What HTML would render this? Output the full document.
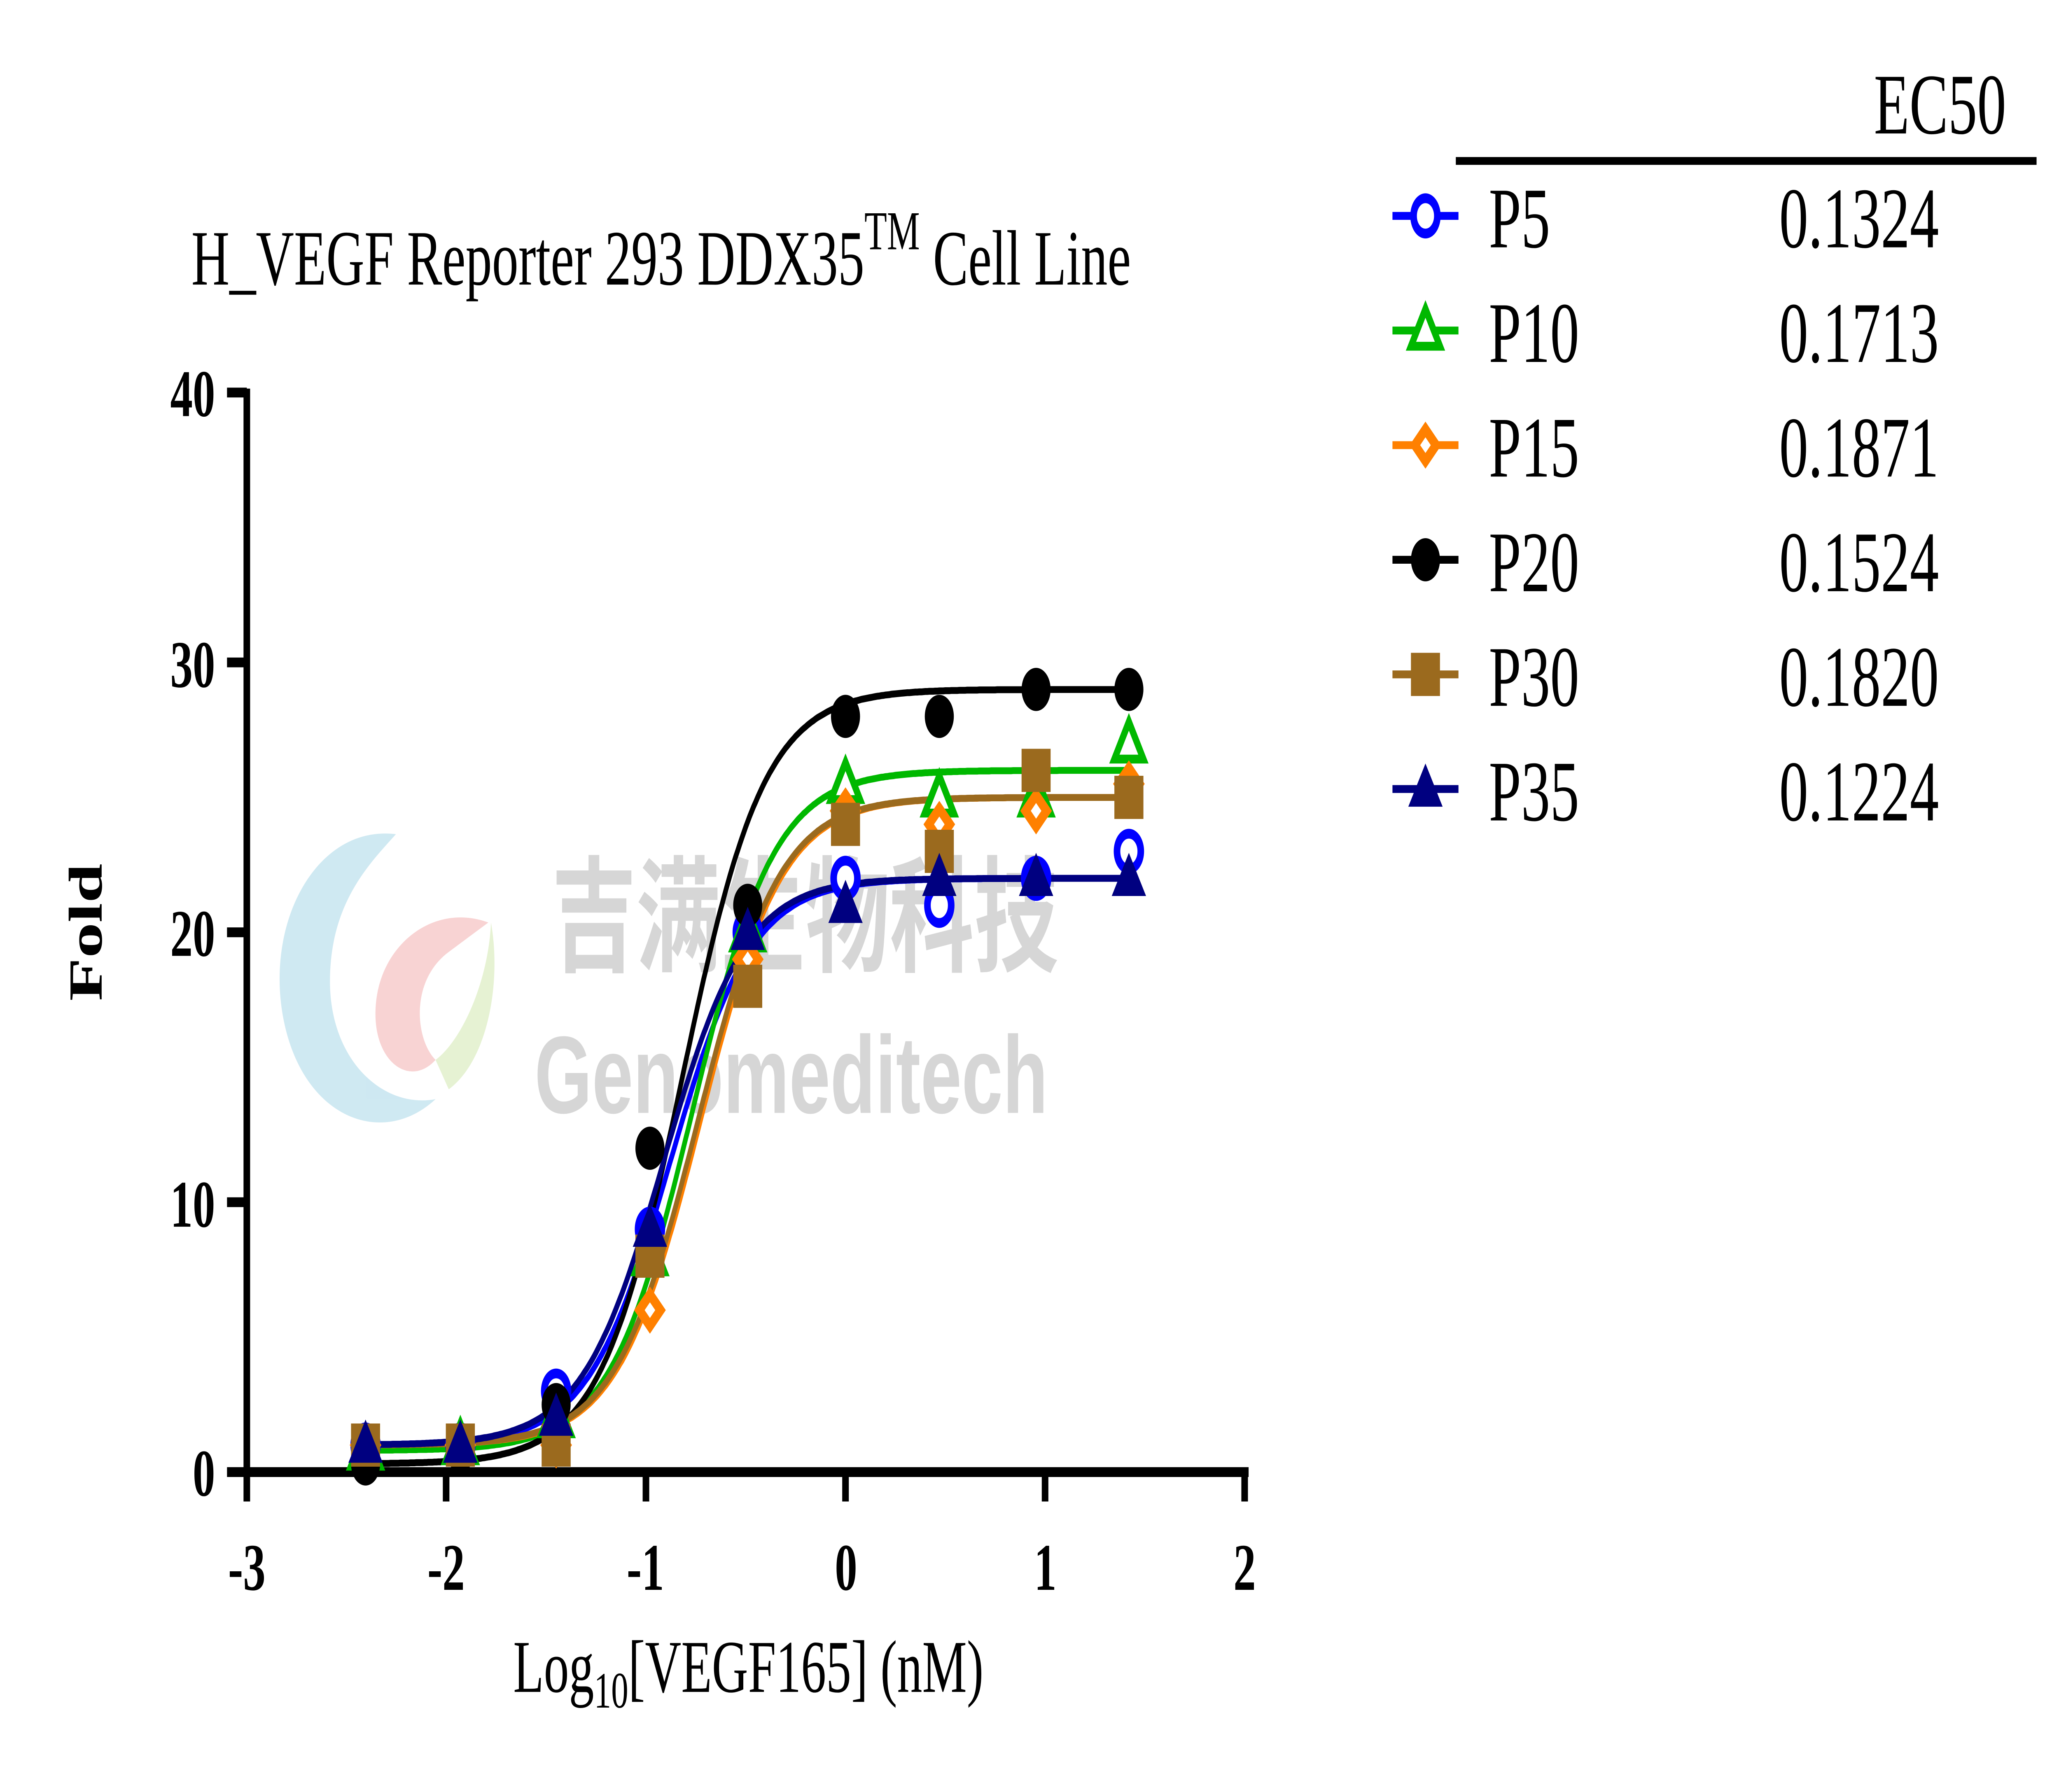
<!DOCTYPE html>
<html><head><meta charset="utf-8"><style>
html,body{margin:0;padding:0;background:#fff;width:100%;height:100%;overflow:hidden;}
svg{display:block;width:100vw;height:100vh;}
text{font-family:"Liberation Serif","Noto Serif CJK SC",serif;}
</style></head><body>
<svg id="s" viewBox="0 0 1560 913" preserveAspectRatio="none" xmlns="http://www.w3.org/2000/svg">
<rect width="1560" height="913" fill="#fff"/>
<g opacity="0.5">
<path d="M300 425 C240 420 200 470 215 520 C230 570 290 585 330 560 C290 565 250 540 250 500 C250 460 280 440 300 425Z" fill="#9fd3e6"/>
<path d="M370 470 C330 460 290 480 285 510 C280 540 310 555 330 540 C315 530 310 500 340 485Z" fill="#f3a9a9"/>
<path d="M330 540 C350 530 370 500 372 470 C380 500 370 540 340 555Z" fill="#cfe6a8"/>
</g>
<text x="418" y="490" font-size="64" font-weight="bold" fill="#d6d6d6" style="font-family:'Noto Sans CJK SC',sans-serif">吉满生物科技</text>
<text x="405" y="567" font-size="56" font-weight="bold" fill="#d6d6d6" style="font-family:'Liberation Sans',sans-serif">Genomeditech</text>
<text x="145" y="145" font-size="40">H_VEGF Reporter 293 DDX35<tspan font-size="28" dy="-18">TM</tspan><tspan dy="18"> Cell Line</tspan></text>
<g stroke="#000" stroke-width="5" fill="none">
<line x1="187" y1="198" x2="187" y2="752"/>
<line x1="172" y1="750" x2="946" y2="750"/>
<line x1="172" y1="200" x2="187" y2="200"/>
<line x1="172" y1="337.5" x2="187" y2="337.5"/>
<line x1="172" y1="475" x2="187" y2="475"/>
<line x1="172" y1="612.5" x2="187" y2="612.5"/>
<line x1="187" y1="750" x2="187" y2="765"/>
<line x1="338" y1="750" x2="338" y2="765"/>
<line x1="489.4" y1="750" x2="489.4" y2="765"/>
<line x1="640.6" y1="750" x2="640.6" y2="765"/>
<line x1="791.8" y1="750" x2="791.8" y2="765"/>
<line x1="943" y1="750" x2="943" y2="765"/>
</g>
<g font-size="34" font-weight="bold" text-anchor="end">
<text x="163" y="212">40</text><text x="163" y="350">30</text><text x="163" y="487">20</text><text x="163" y="625">10</text><text x="163" y="762">0</text>
</g>
<g font-size="34" font-weight="bold" text-anchor="middle">
<text x="187" y="810">-3</text><text x="338" y="810">-2</text><text x="489" y="810">-1</text><text x="641" y="810">0</text><text x="792" y="810">1</text><text x="943" y="810">2</text>
</g>
<text transform="translate(77,475) rotate(-90)" font-size="36" font-weight="bold" text-anchor="middle">Fold</text>
<text x="567" y="862" font-size="38" text-anchor="middle">Log<tspan font-size="26" dy="8">10</tspan><tspan dy="-8">[VEGF165] (nM)</tspan></text>
<text x="1520" y="68" font-size="44" text-anchor="end">EC50</text>
<line x1="1103" y1="82" x2="1543" y2="82" stroke="#000" stroke-width="4"/>
<g id="curves"></g>
<g id="leg"></g>
</svg>
<script>
var NS="http://www.w3.org/2000/svg";
function X(v){return 187+(v+3)*151.2;}
function Y(v){return 750-v*13.75;}
var xs=[-2.405,-1.93,-1.45,-0.98,-0.49,0,0.47,0.955,1.42];
var S=[
{n:"P5",c:"#0000ff",m:"oc",ec:"0.1324",b:1,t:22,d:[1,1,3,9,20,22,21,22,23]},
{n:"P10",c:"#00b800",m:"ot",ec:"0.1713",b:0.8,t:26,d:[0.8,1,2,8,20,25.5,25,25,27]},
{n:"P15",c:"#ff8000",m:"dd",ec:"0.1871",b:1,t:25,d:[1,1,1,6,19,24.5,24,24.5,25.5]},
{n:"P20",c:"#000000",m:"fc",ec:"0.1524",b:0.3,t:29,d:[0.3,0.8,2.5,12,21,28,28,29,29]},
{n:"P30",c:"#9b6a1e",m:"fs",ec:"0.1820",b:1,t:25,d:[1,1,1,8,18,24,23,26,25]},
{n:"P35",c:"#000080",m:"ft",ec:"0.1224",b:1,t:22,d:[1,1,2,9,20,21,22,22,22]}
];
var g=document.getElementById("curves"),L=document.getElementById("leg");
function el(n,a,p){var e=document.createElementNS(NS,n);for(var k in a)e.setAttribute(k,a[k]);p.appendChild(e);return e;}
function mk(m,c,x,y,p){
 if(m=="oc")el("circle",{cx:x,cy:y,r:9,fill:"#fff",stroke:c,"stroke-width":5},p);
 if(m=="fc")el("circle",{cx:x,cy:y,r:11,fill:c},p);
 if(m=="fs")el("rect",{x:x-11,y:y-11,width:22,height:22,fill:c},p);
 if(m=="ot")el("polygon",{points:(x)+","+(y-11)+" "+(x+11)+","+(y+8)+" "+(x-11)+","+(y+8),fill:"#fff",stroke:c,"stroke-width":4.5},p);
 if(m=="ft")el("polygon",{points:(x)+","+(y-13)+" "+(x+13)+","+(y+9)+" "+(x-13)+","+(y+9),fill:c},p);
 if(m=="dd"){el("polygon",{points:x+","+(y-12)+" "+(x+12)+","+y+" "+x+","+(y+12)+" "+(x-12)+","+y,fill:c},p);
  el("polygon",{points:x+","+(y-4)+" "+(x+4)+","+y+" "+x+","+(y+4)+" "+(x-4)+","+y,fill:"#fff"},p);}
}
S.forEach(function(s){
 var le=Math.log10(parseFloat(s.ec)),pts=[];
 for(var x=-2.42;x<=1.43;x+=0.01){var v=s.b+(s.t-s.b)/(1+Math.pow(10,(le-x)*2.1));pts.push(X(x).toFixed(1)+","+Y(v).toFixed(1));}
 el("polyline",{points:pts.join(" "),fill:"none",stroke:s.c,"stroke-width":3.5},g);
});
S.forEach(function(s){s.d.forEach(function(v,i){mk(s.m,s.c,X(xs[i]),Y(v),g);});});
S.forEach(function(s,i){
 var y=110+i*58.4;
 el("line",{x1:1055,y1:y,x2:1105,y2:y,stroke:s.c,"stroke-width":4},L);
 mk(s.m,s.c,1080,y,L);
 var t=el("text",{x:1128,y:y+16,"font-size":44},L);t.textContent=s.n;
 var t2=el("text",{x:1348,y:y+16,"font-size":44},L);t2.textContent=s.ec;
});
</script>
</body></html>
